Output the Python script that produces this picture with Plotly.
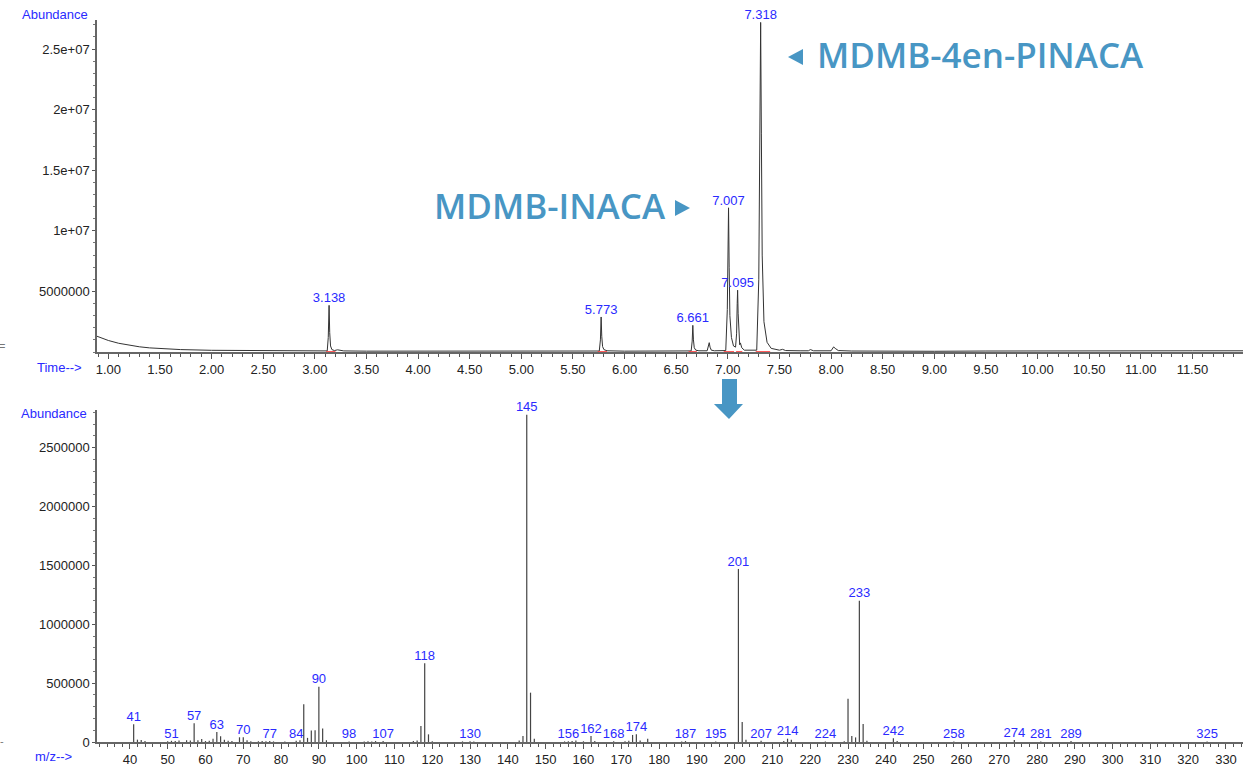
import plotly.graph_objects as go
from plotly.subplots import make_subplots

# ---------------- data: total ion chromatogram ----------------
tic_time = [0.89, 0.95, 1.00, 1.10, 1.20, 1.30, 1.40, 1.50, 1.70, 2.00, 2.50, 3.00,
            3.12, 3.130, 3.138, 3.144, 3.152, 3.165, 3.19, 3.22, 3.24, 3.28, 3.50,
            4.00, 4.50, 5.00, 5.50, 5.755, 5.766, 5.773, 5.779, 5.787, 5.80, 5.83,
            6.00, 6.30, 6.50, 6.645, 6.655, 6.661, 6.667, 6.675, 6.69, 6.72, 6.80,
            6.812, 6.82, 6.828, 6.84, 6.87, 6.98, 6.995, 7.002, 7.007, 7.013, 7.02,
            7.035, 7.055, 7.075, 7.085, 7.091, 7.095, 7.100, 7.107, 7.115, 7.122,
            7.135, 7.16, 7.28, 7.300, 7.310, 7.318, 7.325, 7.333, 7.35, 7.38, 7.42,
            7.50, 7.53, 7.56, 7.70, 7.78, 7.80, 7.83, 8.00, 8.025, 8.04, 8.07, 8.20,
            8.60, 9.00, 9.50, 10.00, 10.50, 11.00, 11.50, 12.00]
tic_abund = [1.30e6, 1.10e6, 0.95e6, 0.72e6, 0.55e6, 0.43e6, 0.34e6, 0.28e6, 0.20e6,
             0.14e6, 0.10e6, 0.08e6,
             0.09e6, 1.2e6, 3.85e6, 1.6e6, 0.5e6, 0.2e6, 0.12e6, 0.18e6, 0.16e6,
             0.09e6, 0.07e6,
             0.06e6, 0.06e6, 0.06e6, 0.07e6, 0.08e6, 1.0e6, 2.89e6, 1.3e6, 0.45e6,
             0.2e6, 0.1e6,
             0.07e6, 0.07e6, 0.08e6, 0.09e6, 0.9e6, 2.2e6, 1.0e6, 0.35e6, 0.15e6,
             0.1e6, 0.1e6,
             0.4e6, 0.77e6, 0.4e6, 0.15e6, 0.1e6, 0.12e6, 3.5e6, 9.0e6, 1.19e7,
             7.0e6, 3.0e6,
             1.2e6, 0.5e6, 0.4e6, 1.5e6, 4.0e6, 5.1e6, 3.2e6, 1.2e6, 0.6e6, 0.75e6,
             0.35e6, 0.15e6, 0.15e6, 6.0e6, 2.1e7, 2.72e7, 1.8e7, 8.0e6, 2.5e6,
             0.8e6, 0.3e6,
             0.15e6, 0.22e6, 0.12e6, 0.1e6, 0.1e6, 0.2e6, 0.1e6, 0.1e6, 0.42e6,
             0.3e6, 0.12e6, 0.08e6,
             0.06e6, 0.06e6, 0.08e6, 0.1e6, 0.1e6, 0.1e6, 0.1e6, 0.1e6]

peak_rt = [3.138, 5.773, 6.661, 7.007, 7.095, 7.318]
peak_height = [3.85e6, 2.89e6, 2.2e6, 1.19e7, 5.1e6, 2.72e7]
peak_label = ["3.138", "5.773", "6.661", "7.007", "7.095", "7.318"]

integ_start = [3.11, 5.74, 6.62, 6.96, 7.08, 7.27]
integ_end = [3.20, 5.83, 6.70, 7.06, 7.14, 7.41]

# ---------------- data: mass spectrum ----------------
ms_mz = [41, 42, 43, 44, 50, 51, 52, 53, 55, 56, 57, 58, 59, 60, 61, 62, 63, 64, 65,
         66, 67, 69, 70, 71, 72, 74, 75, 76, 77, 78, 81, 84, 85, 86, 87, 88, 89, 90,
         91, 92, 98, 102, 103, 104, 105, 107, 115, 116, 117, 118, 119, 120, 128, 130,
         131, 143, 144, 145, 146, 147, 155, 156, 157, 158, 160, 162, 163, 168, 171,
         172, 173, 174, 175, 177, 186, 187, 195, 201, 202, 203, 207, 213, 214, 215,
         224, 229, 230, 231, 232, 233, 234, 235, 242, 243, 258, 274, 281, 289, 325]
ms_int = [150000, 20000, 18000, 8000, 6000, 10000, 8000, 12000, 15000, 12000, 160000,
          14000, 25000, 8000, 10000, 28000, 85000, 48000, 20000, 10000, 8000, 40000,
          40000, 15000, 6000, 6000, 8000, 6000, 9000, 5000, 5000, 10000, 14000, 320000,
          35000, 97000, 100000, 470000, 115000, 15000, 5000, 5000, 6000, 5000, 8000,
          8000, 8000, 12000, 136000, 669000, 65000, 6000, 5000, 6000, 5000, 12000,
          52000, 2780000, 419000, 28000, 5000, 6000, 8000, 12000, 6000, 50000, 8000,
          6000, 6000, 10000, 60000, 65000, 12000, 28000, 5000, 8000, 5000, 1470000,
          170000, 20000, 10000, 8000, 28000, 20000, 5000, 6000, 368000, 51000, 39000,
          1200000, 153000, 10000, 31000, 8000, 5000, 17000, 5000, 8000, 4000]
ms_labels = [41, 51, 57, 63, 70, 77, 84, 90, 98, 107, 118, 130, 145, 156, 162, 168,
             174, 187, 195, 201, 207, 214, 224, 233, 242, 258, 274, 281, 289, 325]

top_yticks = [5e6, 1e7, 1.5e7, 2e7, 2.5e7]
top_yticktext = ["5000000", "1e+07", "1.5e+07", "2e+07", "2.5e+07"]
bot_yticks = [0, 500000, 1000000, 1500000, 2000000, 2500000]
bot_yticktext = ["0", "500000", "1000000", "1500000", "2000000", "2500000"]

# ---------------- figure ----------------
W, H = 1246, 766
ML, MR, MT, MB = 97, 3, 20, 24
PW, PH = W - ML - MR, H - MT - MB


def px(xp):
    return (xp - ML) / PW


def py(yp):
    return (H - MB - yp) / PH


def poly(points):
    return "M " + " L ".join(f"{px(a):.5f},{py(b):.5f}" for a, b in points) + " Z"


fig = make_subplots(rows=2, cols=1, vertical_spacing=0.08)

LBL = dict(family="Liberation Sans, Arial, sans-serif", size=13, color="#2a2aff")
TICKF = dict(family="Liberation Sans, Arial, sans-serif", size=13, color="#222222")
BLUE = "#4896c4"

# chromatogram
fig.add_trace(go.Scatter(x=tic_time, y=tic_abund, mode="lines",
                         line=dict(color="#333333", width=1), hoverinfo="skip"),
              row=1, col=1)
rx, ry = [], []
for s, e in zip(integ_start, integ_end):
    rx += [s, e, None]
    ry += [0, 0, None]
fig.add_trace(go.Scatter(x=rx, y=ry, mode="lines",
                         line=dict(color="#ff3030", width=1.6), hoverinfo="skip"),
              row=1, col=1)
fig.add_trace(go.Scatter(x=peak_rt, y=peak_height, mode="text", text=peak_label,
                         textposition="top center", textfont=LBL, cliponaxis=False,
                         hoverinfo="skip"), row=1, col=1)

# mass spectrum sticks
sx, sy = [], []
for m, v in zip(ms_mz, ms_int):
    sx += [m, m, None]
    sy += [0, v, None]
fig.add_trace(go.Scatter(x=sx, y=sy, mode="lines",
                         line=dict(color="#444444", width=1.2), hoverinfo="skip"),
              row=2, col=1)
lookup = dict(zip(ms_mz, ms_int))
fig.add_trace(go.Scatter(x=ms_labels, y=[lookup[m] for m in ms_labels], mode="text",
                         text=[str(m) for m in ms_labels], textposition="top center",
                         textfont=LBL, cliponaxis=False, hoverinfo="skip"),
              row=2, col=1)

axis_common = dict(showline=True, linecolor="#666666", linewidth=1.5, ticks="outside",
                   tickcolor="#555555", tickfont=TICKF, showgrid=False, zeroline=False,
                   layer="below traces", automargin=False)

fig.update_xaxes(**axis_common, range=[0.89, 11.99], tick0=0, dtick=0.5,
                 tickformat=".2f", ticklen=5,
                 minor=dict(dtick=0.1, tick0=0, ticklen=3, ticks="outside",
                            tickcolor="#555555"),
                 row=1, col=1)
fig.update_yaxes(**axis_common, range=[0, 2.74e7], tickmode="array",
                 tickvals=top_yticks, ticktext=top_yticktext, ticklen=3,
                 minor=dict(dtick=1e6, tick0=0, ticklen=2, ticks="outside",
                            tickcolor="#777777"),
                 row=1, col=1)
fig.update_xaxes(**axis_common, range=[31.3, 334.5], tick0=0, dtick=10, ticklen=5,
                 minor=dict(dtick=2, tick0=0, ticklen=3, ticks="outside",
                            tickcolor="#555555"),
                 row=2, col=1)
fig.update_yaxes(**axis_common, range=[0, 2.82e6], tickmode="array",
                 tickvals=bot_yticks, ticktext=bot_yticktext, ticklen=3,
                 minor=dict(dtick=1e5, tick0=0, ticklen=2, ticks="outside",
                            tickcolor="#777777"),
                 row=2, col=1)

fig.update_layout(
    xaxis=dict(domain=[0, 1]), xaxis2=dict(domain=[0, 1]),
    yaxis=dict(domain=[py(352), 1.0]), yaxis2=dict(domain=[0.0, py(410)]),
)

annots = [
    dict(text="Abundance", x=px(55), y=py(14)),
    dict(text="Abundance", x=px(53.5), y=py(413)),
    dict(text="Time-->", x=px(59.5), y=py(367)),
    dict(text="m/z-->", x=px(53.5), y=py(756.5)),
]
for a in annots:
    fig.add_annotation(text=a["text"], x=a["x"], y=a["y"], xref="paper", yref="paper",
                       showarrow=False, font=LBL, xanchor="center", yanchor="middle")

BIG = dict(family="Open Sans, Lato, sans-serif", size=35, color=BLUE, weight=600)
fig.add_annotation(text="MDMB-INACA", x=px(432), y=py(205),
                   xref="paper", yref="paper", showarrow=False, font=BIG,
                   xanchor="left", yanchor="middle")
fig.add_annotation(text="MDMB-4en-PINACA", x=px(815), y=py(55),
                   xref="paper", yref="paper", showarrow=False, font=BIG,
                   xanchor="left", yanchor="middle")
for t, yy in [("=", 346), ("-", 741)]:
    fig.add_annotation(text=t, x=px(2), y=py(yy), xref="paper", yref="paper",
                       showarrow=False, xanchor="center", yanchor="middle",
                       font=dict(family="Liberation Sans", size=11, color="#777777"))

# pointer triangles next to the compound names
fig.add_shape(type="path", path=poly([(675, 200), (690, 208), (675, 216)]),
              xref="paper", yref="paper", fillcolor=BLUE, line=dict(width=0))
fig.add_shape(type="path", path=poly([(803, 49), (788, 57), (803, 65)]),
              xref="paper", yref="paper", fillcolor=BLUE, line=dict(width=0))

# down arrow between the panels
fig.add_shape(type="path",
              path=poly([(722, 379), (737, 379), (737, 404), (743, 404), (729, 419),
                         (714, 404), (722, 404)]),
              xref="paper", yref="paper", fillcolor=BLUE, line=dict(width=0))

fig.update_layout(width=W, height=H, margin=dict(l=ML, r=MR, t=MT, b=MB),
                  paper_bgcolor="white", plot_bgcolor="white", showlegend=False)

fig.write_html("out.html", config={"displayModeBar": False},
               post_script="document.body.style.margin='0';"
                           "document.body.style.overflow='hidden';")
